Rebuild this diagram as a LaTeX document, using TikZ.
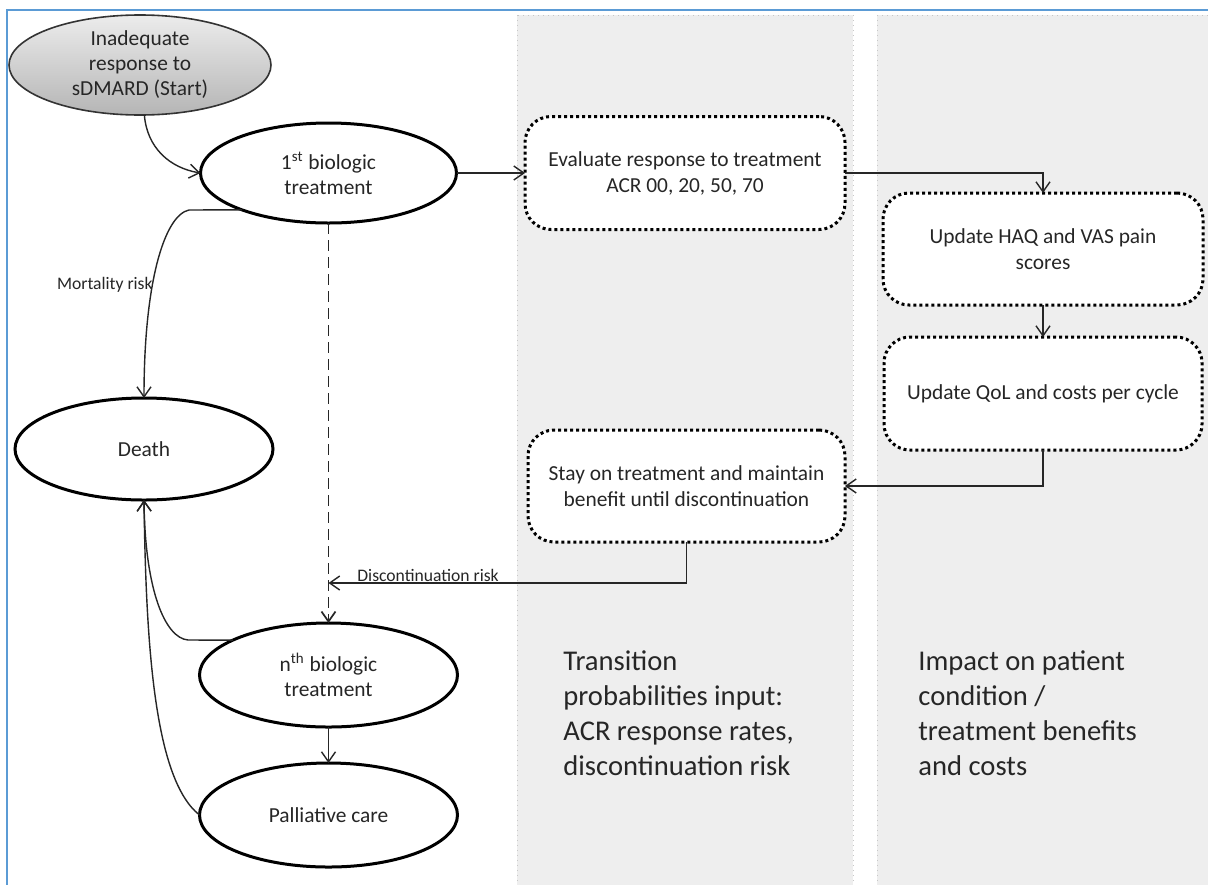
\documentclass[tikz,border=0pt]{standalone}
\usepackage{fontspec}
\setmainfont{Carlito}
\usetikzlibrary{shapes.geometric,arrows.meta}
\definecolor{framebl}{HTML}{5B9BD5}
\definecolor{panelgray}{HTML}{EEEEEE}
\definecolor{ink}{HTML}{262626}
\begin{document}
\begin{tikzpicture}[x=0.5pt,y=-0.5pt,
  state/.style={ellipse, draw=black, line width=1.5pt, fill=white,
    minimum width=129pt, minimum height=52pt, inner sep=0pt, outer sep=0pt,
    align=center, text=ink, font=\fontsize{10.7pt}{12.5pt}\selectfont},
  stepbox/.style={rectangle, rounded corners=13pt, draw=black, line width=1.5pt,
    dash pattern=on 1.5pt off 1.5pt, fill=white,
    minimum width=160pt, minimum height=56pt, inner sep=0pt, outer sep=0pt,
    align=center, text=ink, font=\fontsize{10.7pt}{13pt}\selectfont},
  conn/.style={line width=0.7pt, draw=black!85, -{Straight Barb[length=5pt,width=7pt]}},
  panel/.style={fill=panelgray, draw=black!22, line width=0.5pt, dotted},
  risk/.style={text=ink, font=\fontsize{8.8pt}{10pt}\selectfont, inner sep=0pt},
  paneltext/.style={align=left, inner sep=0pt, text=ink, font=\fontsize{14.3pt}{17.5pt}\selectfont}
]
\useasboundingbox (0,0) rectangle (1208,884);
\fill[white] (0,0) rectangle (1208,884);

% background panels
\path[panel] (517,15) rectangle (853,890);
\path[panel] (877,15) rectangle (1215,890);

% outer frame
\draw[framebl, line width=1.4pt] (7,890) -- (7,10) -- (1215,10);

% states
\node[ellipse, draw=black!80, line width=0.8pt, top color=gray!15, bottom color=gray!58,
  minimum width=131pt, minimum height=50pt, inner sep=0pt, outer sep=0pt, align=center,
  text=ink, font=\fontsize{10.7pt}{12.5pt}\selectfont] (start) at (140,65)
  {Inadequate\\response to\\sDMARD (Start)};
\node[state, minimum width=128pt, minimum height=50pt] (first) at (328.5,173) {1\textsuperscript{st} biologic\\treatment};
\node[state, minimum height=51pt] (death) at (144,449) {Death};
\node[state] (nth) at (328.5,675) {n\textsuperscript{th} biologic\\treatment};
\node[state] (pall) at (328.5,815) {Palliative care};

% model steps
\node[stepbox, minimum height=56.5pt] (eval) at (685,173) {Evaluate response to treatment\\ACR 00, 20, 50, 70};
\node[stepbox] (haq) at (1043,249) {Update HAQ and VAS pain\\scores};
\node[stepbox, minimum width=159pt, minimum height=56.5pt] (qol) at (1043,393.5) {Update QoL and costs per cycle};
\node[stepbox, minimum width=158.5pt] (stay) at (686.5,486) {Stay on treatment and maintain\\benefit until discontinuation};

% panel captions
\node[paneltext, anchor=north west] (tcap) at (563,650) {Transition\\probabilities input:\\ACR response rates,\\discontinuation risk};
\node[paneltext, anchor=north west] (icap) at (918,650) {Impact on patient\\condition /\\treatment benefits\\and costs};

% connectors
\draw[conn] (start.-85) .. controls (147,148) and (170,168) .. (first.west);
\draw[conn] (first.east) -- (eval.west);
\draw[conn] (eval.east) -| (haq.north);
\draw[conn] (haq.south) -- (qol.north);
\draw[conn] (qol.south) |- (stay.east);

\coordinate (dj) at (328.5,583);
\draw[conn] (stay.south) |- (dj);
\node[risk, anchor=base west] (dlbl) at (357,581) {Discontinuation risk};

\draw[conn, line width=0.85pt, dash pattern=on 5.5pt off 3pt] (first.south) -- (nth.north);

\coordinate (m1) at (189,210);
\draw[conn] (first.203) -- (m1) .. controls (165,215) and (144,280) .. (death.north);
\node[risk, anchor=east] (mlbl) at (153,285) {Mortality risk};

\coordinate (n1) at (188,640);
\draw[conn] (nth.160) -- (n1) .. controls (165,638) and (145,590) .. (death.south);
\draw[conn] (pall.west) .. controls (155,780) and (146,650) .. (death.south);
\draw[conn] (nth.south) -- (pall.north);
\end{tikzpicture}
\end{document}
